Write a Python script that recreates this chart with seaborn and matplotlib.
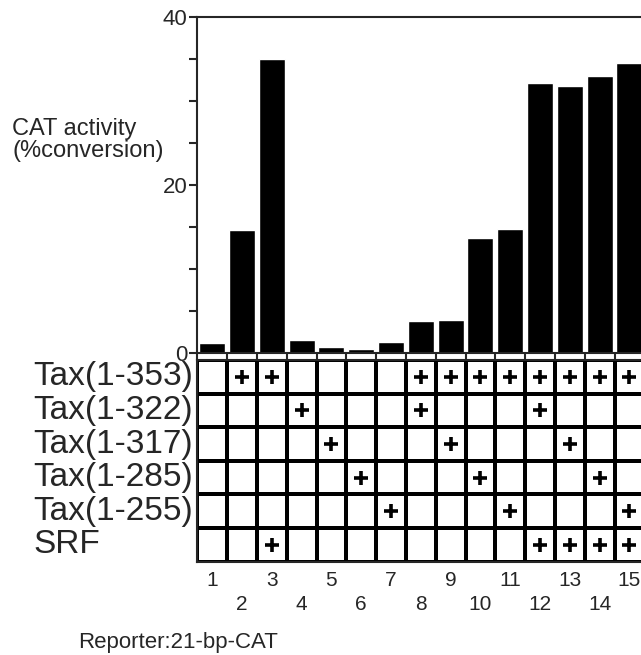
import numpy as np
import matplotlib
matplotlib.use("Agg")
import matplotlib.pyplot as plt
import matplotlib.transforms as mtransforms
from matplotlib.colors import ListedColormap
from matplotlib.ticker import MultipleLocator
import seaborn as sns

# CAT activity (% conversion) per lane
lanes = list(range(1, 16))
activity = [1.2, 14.7, 35.0, 1.55, 0.75, 0.55, 1.4, 3.8, 4.0, 13.75, 14.8, 32.2, 31.8, 33.0, 34.6]

# which lanes got each construct
row_names = ["Tax(1-353)", "Tax(1-322)", "Tax(1-317)", "Tax(1-285)", "Tax(1-255)", "SRF"]
tax353 = [2, 3, 8, 9, 10, 11, 12, 13, 14, 15]
tax322 = [4, 8, 12]
tax317 = [5, 9, 13]
tax285 = [6, 10, 14]
tax255 = [7, 11, 15]
srf = [3, 12, 13, 14, 15]

y_ticks = [0, 20, 40]
reporter = "Reporter:21-bp-CAT"

sns.set_style("ticks")
plt.rcParams["font.family"] = ["Liberation Sans", "DejaVu Sans"]

W, H = 641, 655
fig = plt.figure(figsize=(W / 100, H / 100), dpi=100)

# --- bar chart ---
ax = fig.add_axes([197.3 / W, (H - 353.3) / H, 447 / W, 336 / H])
sns.barplot(x=[str(l) for l in lanes], y=activity, color="black", saturation=1,
            width=0.87, ax=ax)
ax.set_xlim(-0.5, len(lanes) - 0.5)
ax.set_ylim(0, 40)
ax.set_xticks(np.arange(len(lanes) + 1) - 0.5)
ax.set_xticklabels([])
ax.set_yticks(y_ticks)
ax.yaxis.set_minor_locator(MultipleLocator(5))
ax.tick_params(axis="y", which="both", direction="out", length=6, width=1.5,
               labelsize=16, pad=1)
ax.tick_params(axis="x", direction="out", length=5, width=1.5)
ax.set_xlabel("")
ax.set_ylabel("")
for s in ["left", "top", "bottom"]:
    ax.spines[s].set_visible(True)
    ax.spines[s].set_linewidth(1.5)
ax.spines["right"].set_visible(False)

fig.text(12 / W, (H - 140) / H, "CAT activity\n(%conversion)", fontsize=17,
         ha="left", va="center", linespacing=0.95)

# --- construct table ---
groups = [tax353, tax322, tax317, tax285, tax255, srf]
grid = np.array([[1 if l in g else 0 for l in lanes] for g in groups])

tab = fig.add_axes([197.3 / W, (H - 561.6) / H, 447 / W, 201.6 / H])
sns.heatmap(grid, cmap=ListedColormap(["white"]), cbar=False, linewidths=1.5,
            linecolor="black", xticklabels=False, yticklabels=False, ax=tab)
for s in ["left", "top", "bottom", "right"]:
    tab.spines[s].set_visible(True)
    tab.spines[s].set_linewidth(1.5)
tab.tick_params(length=0)

ri, ci = np.nonzero(grid)
tab.scatter(ci + 0.5, ri + 0.5, marker="+", s=110, linewidths=2.6, color="black",
            zorder=5, clip_on=False)

lab_tr = mtransforms.blended_transform_factory(fig.transFigure, tab.transData)
for i, name in enumerate(row_names):
    tab.text(33 / W, i + 0.5, name, transform=lab_tr, fontsize=24,
             ha="left", va="center")

num_tr = mtransforms.blended_transform_factory(tab.transData, fig.transFigure)
for j, l in enumerate(lanes):
    yy = 580.5 if l % 2 == 1 else 605
    tab.text(j + 0.5, (H - yy) / H, str(l), transform=num_tr, fontsize=15,
             ha="center", va="center")

fig.text(78 / W, (H - 648) / H, reporter, fontsize=16, ha="left", va="baseline")

fig.savefig("out.png", dpi=100)
